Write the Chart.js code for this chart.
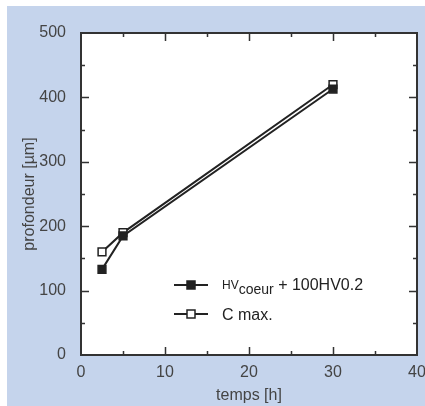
<!DOCTYPE html>
<html>
<head>
<meta charset="utf-8">
<script src="https://cdn.jsdelivr.net/npm/chart.js@4"></script>
<style>
  html, body { margin: 0; padding: 0; background: #fff; }
  #wrap { width: 425px; height: 406px; position: relative; }
</style>
</head>
<body>
<div id="wrap"><canvas id="c" width="425" height="406"></canvas></div>
<script>
// donnees
const temps = [2.5, 5, 30];
const hvCoeur = [133, 185, 413];
const cMax = [160, 190, 420];
const xTicks = [0, 10, 20, 30, 40];
const yTicks = [0, 100, 200, 300, 400, 500];

const fond = '#c5d4ec';
const encre = '#222';
const police = "'Liberation Sans', Arial, sans-serif";

// fond bleu, zone blanche, cadre, graduations internes et legende
const cadrePlugin = {
  id: 'cadre',
  beforeDraw(chart) {
    const ctx = chart.ctx;
    const a = chart.chartArea;
    ctx.save();
    ctx.fillStyle = '#fff';
    ctx.fillRect(0, 0, chart.width, chart.height);
    ctx.fillStyle = fond;
    ctx.fillRect(7, 6, chart.width - 7, chart.height - 6);
    ctx.fillStyle = '#fff';
    ctx.fillRect(a.left, a.top, a.right - a.left, a.bottom - a.top);
    ctx.restore();
  },
  afterDraw(chart) {
    const ctx = chart.ctx;
    const a = chart.chartArea;
    const xs = chart.scales.x;
    const ys = chart.scales.y;
    ctx.save();
    ctx.strokeStyle = '#333';
    ctx.lineWidth = 2;
    ctx.strokeRect(a.left, a.top, a.right - a.left, a.bottom - a.top);

    ctx.lineWidth = 1.5;
    ctx.beginPath();
    for (let v = 5; v < 40; v += 5) {
      const px = Math.round(xs.getPixelForValue(v)) + 0.5;
      const len = v % 10 === 0 ? 8 : 4;
      ctx.moveTo(px, a.bottom); ctx.lineTo(px, a.bottom - len);
      ctx.moveTo(px, a.top); ctx.lineTo(px, a.top + len);
    }
    for (let v = 50; v < 500; v += 50) {
      const py = Math.round(ys.getPixelForValue(v)) + 0.5;
      const len = v % 100 === 0 ? 8 : 4;
      ctx.moveTo(a.left, py); ctx.lineTo(a.left + len, py);
      ctx.moveTo(a.right, py); ctx.lineTo(a.right - len, py);
    }
    ctx.stroke();

    // legende
    const lx = 174, lw = 34, tx = 222;
    const rows = [285, 314];
    chart.data.datasets.forEach((ds, i) => {
      const y = rows[i];
      ctx.strokeStyle = encre;
      ctx.lineWidth = 2;
      ctx.beginPath();
      ctx.moveTo(lx, y); ctx.lineTo(lx + lw, y);
      ctx.stroke();
      ctx.fillStyle = ds.pointBackgroundColor;
      ctx.lineWidth = 1.5;
      ctx.fillRect(lx + lw / 2 - 4, y - 4, 8, 8);
      ctx.strokeRect(lx + lw / 2 - 4, y - 4, 8, 8);
    });
    ctx.fillStyle = encre;
    ctx.textBaseline = 'alphabetic';
    ctx.textAlign = 'left';
    let x = tx;
    ctx.font = '12px ' + police;
    ctx.fillText('HV', x, 289);
    x += ctx.measureText('HV').width;
    ctx.font = '14px ' + police;
    ctx.fillText('coeur', x, 294);
    x += ctx.measureText('coeur').width;
    ctx.font = '16px ' + police;
    ctx.fillText(' + 100HV0.2', x, 290);
    ctx.fillText('C max.', tx, 319.5);
    ctx.restore();
  }
};

new Chart('c', {
  type: 'line',
  data: {
    datasets: [{
      label: 'HVcoeur + 100HV0.2',
      data: temps.map((t, i) => ({ x: t, y: hvCoeur[i] })),
      borderColor: encre,
      borderWidth: 2,
      pointStyle: 'rect',
      pointRadius: 5.5,
      pointBorderWidth: 1.5,
      pointBackgroundColor: encre,
      pointBorderColor: encre
    }, {
      label: 'C max.',
      data: temps.map((t, i) => ({ x: t, y: cMax[i] })),
      borderColor: encre,
      borderWidth: 2,
      pointStyle: 'rect',
      pointRadius: 5.5,
      pointBorderWidth: 1.5,
      pointBackgroundColor: '#fff',
      pointBorderColor: encre
    }]
  },
  options: {
    responsive: false,
    animation: false,
    layout: { padding: { top: 33, right: 8, left: 0, bottom: 0 } },
    plugins: { legend: { display: false }, tooltip: { enabled: false } },
    scales: {
      x: {
        type: 'linear',
        min: 0, max: 40,
        afterBuildTicks: s => { s.ticks = xTicks.map(v => ({ value: v })); },
        afterFit: s => { s.height = 51; s.paddingLeft = 0; s.paddingRight = 0; },
        grid: { display: false },
        border: { display: false },
        ticks: { color: '#444', padding: 0, font: { family: police, size: 16 }, maxRotation: 0 },
        title: { display: true, text: 'temps [h]', color: '#444', padding: { top: 0, bottom: 1 }, font: { family: police, size: 16 } }
      },
      y: {
        min: 0, max: 500,
        afterBuildTicks: s => { s.ticks = yTicks.map(v => ({ value: v })); },
        afterFit: s => { s.width = 81; s.paddingTop = 0; s.paddingBottom = 0; },
        grid: { display: false },
        border: { display: false },
        ticks: { color: '#444', padding: 7, font: { family: police, size: 16 } },
        title: { display: true, text: 'profondeur [µm]', color: '#444', padding: { top: 20, bottom: 0 }, font: { family: police, size: 16 } }
      }
    }
  },
  plugins: [cadrePlugin]
});
</script>
</body>
</html>
